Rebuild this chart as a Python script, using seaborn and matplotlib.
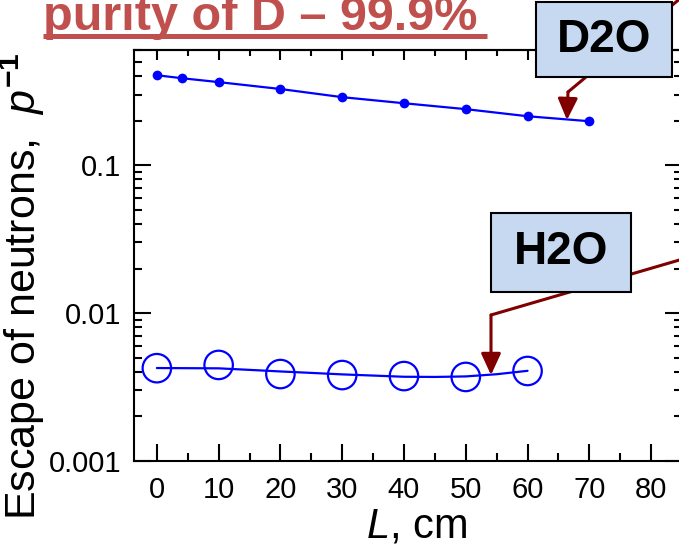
import numpy as np
import pandas as pd
import matplotlib
matplotlib.use("Agg")
import matplotlib.pyplot as plt
import seaborn as sns
from matplotlib.lines import Line2D
from matplotlib.patches import Rectangle
from matplotlib.ticker import LogLocator, FixedLocator, NullFormatter

# data
d2o_L = [0, 4, 10, 20, 30, 40, 50, 60, 70]
d2o_p = [0.405, 0.387, 0.364, 0.327, 0.288, 0.262, 0.239, 0.214, 0.198]

h2o_L = [0, 10, 20, 30, 40, 50, 60]
h2o_p = [0.00424, 0.00446, 0.00387, 0.00381, 0.00375, 0.00370, 0.00406]

# fitted curve through the H2O points
h2o_fit_L = [0, 5, 10, 15, 20, 25, 30, 35, 40, 45, 50, 55, 60]
h2o_fit_p = [0.00425, 0.00424, 0.00423, 0.00413, 0.00403, 0.00394, 0.00385,
             0.00378, 0.00371, 0.00370, 0.00373, 0.00386, 0.00407]

x_ticks = [0, 10, 20, 30, 40, 50, 60, 70, 80]
y_ticks = [0.001, 0.01, 0.1]
y_tick_labels = ["0.001", "0.01", "0.1"]

sns.set_style("ticks")
plt.rcParams['font.family'] = ['Liberation Sans', 'DejaVu Sans']
plt.rcParams['mathtext.fontset'] = 'custom'
plt.rcParams['mathtext.rm'] = 'Liberation Sans'
plt.rcParams['mathtext.it'] = 'Liberation Sans:italic'
plt.rcParams['mathtext.bf'] = 'Liberation Sans:bold'
plt.rcParams['text.color'] = 'black'
plt.rcParams['axes.labelcolor'] = 'black'
plt.rcParams['xtick.color'] = 'black'
plt.rcParams['ytick.color'] = 'black'

W, H = 679, 545
fig = plt.figure(figsize=(W / 100, H / 100), dpi=100)
ax = fig.add_axes([134 / W, 1 - 461 / H, 548 / W, 411 / H])

def fx(px):
    return px / W

def fy(py):
    return 1 - py / H

blue = "#0000FF"
d2o = pd.DataFrame({"L": d2o_L, "p": d2o_p})
h2o = pd.DataFrame({"L": h2o_L, "p": h2o_p})
fit = pd.DataFrame({"L": h2o_fit_L, "p": h2o_fit_p})

sns.lineplot(data=d2o, x="L", y="p", ax=ax, color=blue, lw=1.6,
             marker="o", markersize=7, markeredgewidth=0, zorder=3)
sns.lineplot(data=fit, x="L", y="p", ax=ax, color=blue, lw=1.6, zorder=3)
sns.scatterplot(data=h2o, x="L", y="p", ax=ax, s=420, facecolor="none",
                edgecolor=blue, linewidth=1.6, zorder=4)

ax.set_yscale("log")
ax.set_xlim(-3.7, 85)
ax.set_ylim(0.001, 0.6)

ax.xaxis.set_major_locator(FixedLocator(x_ticks))
ax.xaxis.set_minor_locator(FixedLocator([5, 15, 25, 35, 45, 55, 65, 75, 85]))
ax.set_xticklabels([str(t) for t in x_ticks])
ax.yaxis.set_major_locator(FixedLocator(y_ticks))
ax.set_yticklabels(y_tick_labels)
ax.yaxis.set_minor_locator(LogLocator(base=10, subs=np.arange(2, 10)))
ax.yaxis.set_minor_formatter(NullFormatter())

ax.tick_params(which="both", direction="in", width=1.5,
               labelsize=21, top=False, right=True)
ax.tick_params(which="major", length=12)
ax.tick_params(axis="x", which="major", pad=11)
ax.tick_params(axis="y", which="major", pad=9)
ax.tick_params(which="minor", length=6)
for sp in ax.spines.values():
    sp.set_linewidth(1.5)
    sp.set_color("black")

top = ax.secondary_xaxis("top")
top.xaxis.set_major_locator(FixedLocator(x_ticks))
top.xaxis.set_minor_locator(FixedLocator([5, 15, 25, 35, 45, 55, 65, 75, 85]))
top.tick_params(which="both", direction="in", width=1.5, labeltop=False)
top.tick_params(which="major", length=7)
top.tick_params(which="minor", length=4)
top.spines["top"].set_linewidth(1.5)

ax.set_xlabel("$L$, cm", fontsize=30)
ax.xaxis.set_label_coords(0.515, -0.11)
ax.xaxis.label.set_va("top")
ax.set_ylabel(r"Escape of neutrons,  $\mathit{p}^{\mathbf{-1}}$", fontsize=31)
ax.yaxis.set_label_coords(-0.158, 0.425)

# title
title_color = "#C0504D"
fig.text(fx(43), fy(30), "purity of D \u2013 99.9%", fontsize=35,
         fontweight="bold", color=title_color, va="baseline", ha="left")
fig.add_artist(Line2D([fx(43), fx(487)], [fy(36), fy(36)], color=title_color,
                      lw=3.6, solid_capstyle="butt"))

# callouts
arrow_c = "#800000"

def callout(label, box, path, tip):
    xs = [fx(p[0]) for p in path]
    ys = [fy(p[1]) for p in path]
    fig.add_artist(Line2D(xs, ys, color=arrow_c, lw=2.2, zorder=5))
    fig.add_artist(plt.Annotation("", xy=(fx(tip[0]), fy(tip[1])),
                                  xytext=(xs[-1], ys[-1]),
                                  xycoords="figure fraction",
                                  textcoords="figure fraction",
                                  arrowprops=dict(arrowstyle="-|>,head_length=1.3,head_width=0.6",
                                                  color=arrow_c, lw=2.2,
                                                  shrinkA=0, shrinkB=0),
                                  zorder=5))
    x0, y0, x1, y1 = box
    fig.add_artist(Rectangle((fx(x0), fy(y1)), fx(x1) - fx(x0), fy(y0) - fy(y1),
                             transform=fig.transFigure, facecolor="#C6D9F1",
                             edgecolor="black", lw=1.5, zorder=6))
    fig.text(fx((x0 + x1) / 2), fy((y0 + y1) / 2), label, fontsize=33,
             fontweight="bold", color="black", ha="center", va="center", zorder=7)

callout("D2O", (536, 2, 672, 77), [(700, -18), (568, 92)], (567, 120))
callout("H2O", (491, 213, 631, 292), [(700, 254), (491, 315)], (491, 375))

fig.savefig("out.png", dpi=100)
